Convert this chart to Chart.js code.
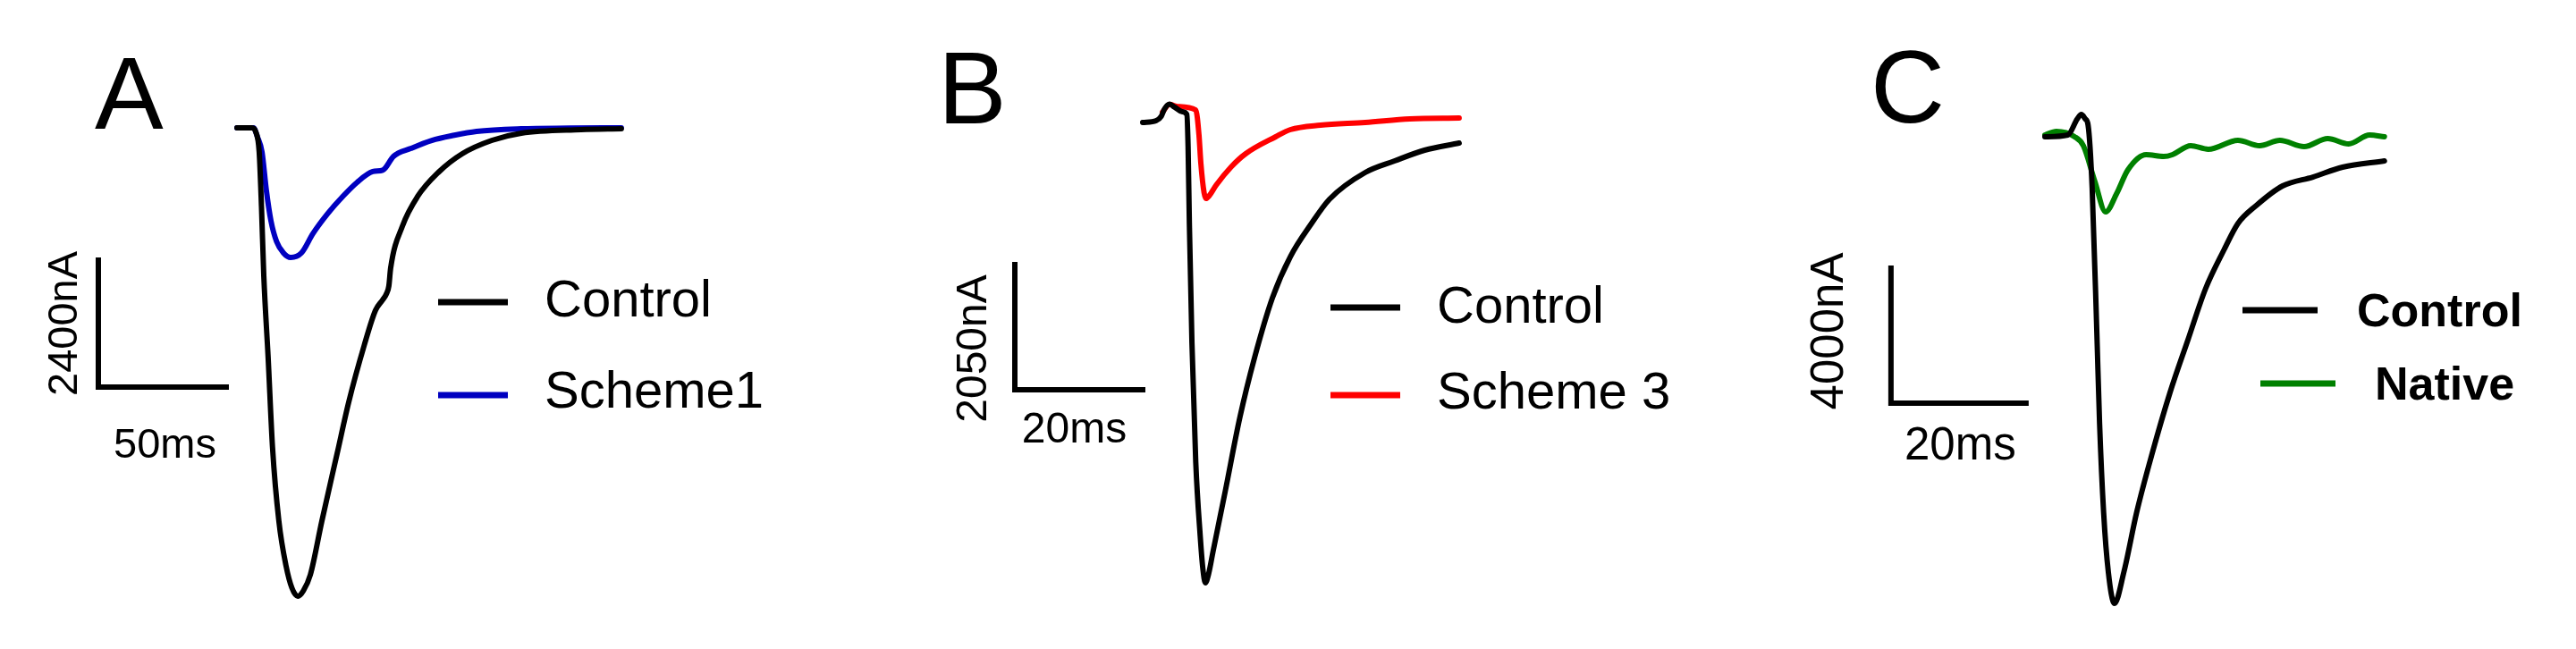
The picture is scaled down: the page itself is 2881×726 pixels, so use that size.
<!DOCTYPE html>
<html>
<head>
<meta charset="utf-8">
<script src="https://cdn.jsdelivr.net/npm/chart.js@4.4.1/dist/chart.umd.min.js"></script>
<style>
  body { margin: 0; background: #fff; }
  #wrap { position: relative; width: 2881px; height: 726px; }
  canvas { position: absolute; top: 0; }
</style>
</head>
<body>
<div id="wrap">
  <canvas id="panelA" width="960" height="726" style="left:0px"></canvas>
  <canvas id="panelB" width="960" height="726" style="left:960px"></canvas>
  <canvas id="panelC" width="961" height="726" style="left:1920px"></canvas>
</div>
<script>
// traces, time in ms and current in nA
// panel A
const ctrlA_t = [0, 5.9, 7.3, 8.7, 9.6, 10.5, 12.2, 13.9, 16.4, 19.2, 21.5, 23.8, 26, 28.7, 33.2, 39.2, 43.7, 49.7, 54.2, 57, 58.4, 59.4, 60.1, 64.7, 70.6, 78.7, 88.1, 99.7, 111.2, 134.6, 150.3];
const ctrlA_i = [0, 0, -70, -456, -1500, -2800, -4343, -6033, -7436, -8281, -8700, -8856, -8750, -8450, -7436, -6152, -5188, -4124, -3448, -3250, -3144, -2991, -2653, -1859, -1301, -845, -490, -237, -101, -34, -17];
const sch1_t = [0, 6.5, 8.0, 9.8, 11.5, 13.3, 15.5, 18.2, 21.0, 25.2, 29.7, 35.5, 41.3, 47, 53.1, 57.0, 58.0, 61.2, 68, 76.2, 85, 93.7, 111.2, 130, 150.3];
const sch1_i = [0, 0, -169, -456, -1183, -1758, -2150, -2366, -2451, -2366, -2000, -1620, -1301, -1030, -828, -800, -760, -541, -390, -237, -140, -68, -17, -5, 0];

// panel B
const ctrlB_t = [0, 2.1, 2.9, 3.4, 4.2, 5.0, 6.2, 6.9, 7.1, 7.3, 7.7, 8.3, 9.0, 9.4, 9.8, 10.3, 11.0, 12.9, 15.2, 17.5, 20.3, 23.1, 26.4, 29.2, 34.8, 39.4, 44.1, 49.5];
const ctrlB_i = [0, 29, 100, 220, 300, 250, 176, 132, -400, -1655, -3602, -5565, -6780, -7300, -7541, -7400, -7029, -6048, -4832, -3851, -2870, -2197, -1655, -1259, -820, -630, -454, -337];
const sch3_t = [3.1, 4.2, 5.5, 8.3, 8.8, 9.1, 9.6, 9.9, 10.4, 11.5, 13.8, 16.1, 20.8, 23.1, 27.8, 34.8, 41.8, 49.5];
const sch3_i = [170, 295, 260, 205, -200, -674, -1150, -1245, -1200, -1025, -732, -513, -234, -117, -44, 0, 59, 73];

// panel C
const ctrlC_t = [0, 3.4, 4.8, 5.4, 6.0, 6.4, 7.0, 7.7, 8.1, 8.7, 9.4, 10.3, 11.7, 13.6, 15.9, 18.5, 21.2, 23.8, 26.5, 28.6, 31.3, 35.2, 39.7, 44.1, 50.3];
const ctrlC_i = [-26, 26, 503, 636, 500, 318, -1536, -5854, -8503, -11152, -12927, -13854, -12927, -11152, -9404, -7629, -6040, -4530, -3391, -2596, -2066, -1483, -1219, -927, -742];
const nat_t = [0, 1.7, 4.4, 5.7, 7.4, 9.0, 10.6, 12.3, 15.0, 17.6, 18.9, 21.6, 24.2, 28.6, 31.8, 34.8, 38.4, 41.9, 45.0, 48.1, 50.3];
const nat_i = [26, 132, -26, -291, -1351, -2252, -1722, -1007, -556, -609, -556, -291, -397, -132, -291, -132, -318, -79, -238, 26, -26];

const namesA = ["Control", "Scheme1"];
const namesB = ["Control", "Scheme 3"];
const namesC = ["Control", "Native"];

// scale bars: [ms, nA]
const barA = [50, 2400];
const barB = [20, 2050];
const barC = [20, 4000];

const FONT = '"Liberation Sans", Arial, Helvetica, sans-serif';

function pts(t, v) {
  return t.map((x, k) => ({ x: x, y: v[k] }));
}

// draws panel letter, scale bar with labels and the legend
const decorPlugin = {
  id: "decor",
  afterDatasetsDraw(chart, args, o) {
    const ctx = chart.ctx;
    const xs = chart.scales.x, ys = chart.scales.y;
    ctx.save();
    ctx.fillStyle = "#000";
    ctx.textBaseline = "alphabetic";

    // letter
    ctx.textAlign = "left";
    ctx.font = "115px " + FONT;
    ctx.fillText(o.letter, o.letterX, o.letterY);

    // scale bar
    const x0 = xs.getPixelForValue(o.bar.t);
    const x1 = xs.getPixelForValue(o.bar.t + o.bar.dt);
    const y0 = ys.getPixelForValue(o.bar.i);
    const y1 = ys.getPixelForValue(o.bar.i + o.bar.di);
    ctx.strokeStyle = "#000";
    ctx.lineWidth = 6;
    ctx.lineCap = "square";
    ctx.lineJoin = "miter";
    ctx.beginPath();
    ctx.moveTo(x0, y1);
    ctx.lineTo(x0, y0);
    ctx.lineTo(x1, y0);
    ctx.stroke();

    ctx.font = o.labelSize + "px " + FONT;
    ctx.textAlign = "center";
    ctx.fillText(o.bar.dt + "ms", (x0 + x1) / 2 + o.tLab[0], y0 + o.tLab[1]);
    ctx.save();
    ctx.translate(x0 + o.iLab[0], (y0 + y1) / 2 + o.iLab[1]);
    ctx.rotate(-Math.PI / 2);
    ctx.fillText(o.bar.di + "nA", 0, 0);
    ctx.restore();

    // legend
    ctx.textAlign = "left";
    ctx.font = o.legend.font + " " + FONT;
    ctx.lineCap = "butt";
    ctx.lineWidth = 7;
    chart.data.datasets.forEach((ds, k) => {
      const it = o.legend.items[k];
      ctx.strokeStyle = ds.borderColor;
      ctx.beginPath();
      ctx.moveTo(it.x1, it.y);
      ctx.lineTo(it.x2, it.y);
      ctx.stroke();
      ctx.fillText(ds.label, it.tx, it.ty);
    });
    ctx.restore();
  }
};

function makePanel(id, map, series, decor) {
  const cv = document.getElementById(id);
  const W = cv.width, H = cv.height;
  const xMin = -map.x0 / map.pxMs;
  const yMax = map.y0 / map.pxNa;
  return new Chart(cv.getContext("2d"), {
    type: "line",
    data: {
      datasets: series.map((s) => ({
        label: s.label,
        data: s.data,
        borderColor: s.color,
        borderWidth: 6,
        pointRadius: 0,
        cubicInterpolationMode: "monotone",
        borderJoinStyle: "round",
        borderCapStyle: "round",
        fill: false,
        clip: false
      }))
    },
    options: {
      responsive: false,
      animation: false,
      devicePixelRatio: 1,
      layout: { padding: 0 },
      events: [],
      scales: {
        x: { type: "linear", display: false, bounds: "data", min: xMin, max: xMin + W / map.pxMs },
        y: { type: "linear", display: false, bounds: "data", min: yMax - H / map.pxNa, max: yMax }
      },
      plugins: {
        legend: { display: false },
        tooltip: { enabled: false },
        decor: decor
      }
    },
    plugins: [decorPlugin]
  });
}

makePanel("panelA", { x0: 265, pxMs: 2.86, y0: 143, pxNa: 0.05917 }, [
  { label: namesA[0], data: pts(ctrlA_t, ctrlA_i), color: "#000000" },
  { label: namesA[1], data: pts(sch1_t, sch1_i), color: "#0000c0" }
], {
  letter: "A", letterX: 106, letterY: 144,
  bar: { t: -54.2, i: -4901, dt: barA[0], di: barA[1] },
  labelSize: 47, tLab: [3, 79], iLab: [-24, 0],
  legend: {
    font: "58px",
    items: [
      { x1: 490, x2: 568, y: 338, tx: 609, ty: 354 },
      { x1: 490, x2: 568, y: 442, tx: 609, ty: 456 }
    ]
  }
});

makePanel("panelB", { x0: 318, pxMs: 7.15, y0: 137, pxNa: 0.06829 }, [
  { label: namesB[0], data: pts(ctrlB_t, ctrlB_i), color: "#000000" },
  { label: namesB[1], data: pts(sch3_t, sch3_i), color: "#ff0000" }
], {
  letter: "B", letterX: 89, letterY: 138,
  bar: { t: -20.0, i: -4378, dt: barB[0], di: barB[1] },
  labelSize: 48, tLab: [-5, 59], iLab: [-32, 24],
  legend: {
    font: "58px",
    items: [
      { x1: 528, x2: 606, y: 344, tx: 647, ty: 361 },
      { x1: 528, x2: 606, y: 442, tx: 647, ty: 457 }
    ]
  }
});

makePanel("panelC", { x0: 367, pxMs: 7.55, y0: 152, pxNa: 0.03775 }, [
  { label: namesC[0], data: pts(ctrlC_t, ctrlC_i), color: "#000000" },
  { label: namesC[1], data: pts(nat_t, nat_i), color: "#008000" }
], {
  letter: "C", letterX: 172, letterY: 137,
  bar: { t: -22.8, i: -7921, dt: barC[0], di: barC[1] },
  labelSize: 51, tLab: [2, 63], iLab: [-54, -5],
  legend: {
    font: "bold 52px",
    items: [
      { x1: 588, x2: 672, y: 347, tx: 716, ty: 365 },
      { x1: 608, x2: 692, y: 429, tx: 736, ty: 447 }
    ]
  }
});
</script>
</body>
</html>
